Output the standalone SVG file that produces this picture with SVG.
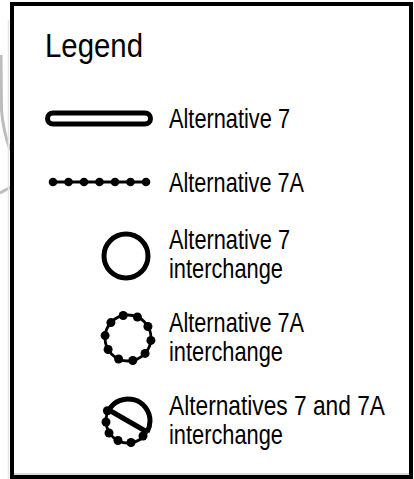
<svg xmlns="http://www.w3.org/2000/svg" width="414" height="479" viewBox="0 0 414 479">
<style>
.t{font-family:"Liberation Sans",Arial,sans-serif;font-size:27.5px;fill:#000}
.title{font-family:"Liberation Sans",Arial,sans-serif;font-size:33.5px;fill:#000}
.bg{fill:none;stroke:#bdbdbd;stroke-width:3}
.thick{fill:none;stroke:#000;stroke-width:5}
.thin{fill:none;stroke:#000;stroke-width:2.8}
.dot{fill:#000}
</style>
<rect width="414" height="479" fill="#fff"/>
<g id="background">
<path class="bg" d="M1,55 L1.5,110 Q3,130 10,150"/>
<path class="bg" d="M0,193 L11,187"/>
<line x1="8.5" y1="20" x2="8.5" y2="479" stroke="#e6e6e6" stroke-width="1.5"/>
<line x1="14" y1="474" x2="409" y2="474" stroke="#cfcfcf" stroke-width="1.5"/>
</g>
<g id="frame">
<rect x="12" y="4" width="399" height="473" fill="none" stroke="#000" stroke-width="4"/>
</g>
<g id="title">
<text class="title" x="45" y="57" textLength="98" lengthAdjust="spacingAndGlyphs">Legend</text>
</g>
<g id="alt7">
<rect x="47.5" y="113" width="103" height="11" rx="5.5" fill="#fff" stroke="#000" stroke-width="5"/>
<text class="t" x="169" y="128" textLength="121" lengthAdjust="spacingAndGlyphs">Alternative 7</text>
</g>
<g id="alt7a">
<line class="thin" x1="53" y1="182" x2="146" y2="182"/>
<g class="dot">
<circle cx="53" cy="182" r="4.3"/><circle cx="68.5" cy="182" r="4.3"/><circle cx="84" cy="182" r="4.3"/><circle cx="99.5" cy="182" r="4.3"/><circle cx="115" cy="182" r="4.3"/><circle cx="130.5" cy="182" r="4.3"/><circle cx="146" cy="182" r="4.3"/>
</g>
<text class="t" x="169" y="192" textLength="135" lengthAdjust="spacingAndGlyphs">Alternative 7A</text>
</g>
<g id="alt7-interchange">
<circle class="thick" cx="126" cy="256" r="22"/>
<text class="t" x="169" y="249" textLength="121" lengthAdjust="spacingAndGlyphs">Alternative 7</text>
<text class="t" x="169" y="278" textLength="114" lengthAdjust="spacingAndGlyphs">interchange</text>
</g>
<g id="alt7a-interchange">
<circle class="thin" cx="128" cy="338" r="23"/>
<g class="dot">
<circle cx="123.2" cy="315.5" r="4.5"/>
<circle cx="137.4" cy="317.0" r="4.5"/>
<circle cx="147.9" cy="326.5" r="4.5"/>
<circle cx="150.9" cy="340.4" r="4.5"/>
<circle cx="145.1" cy="353.4" r="4.5"/>
<circle cx="132.8" cy="360.5" r="4.5"/>
<circle cx="118.6" cy="359.0" r="4.5"/>
<circle cx="108.1" cy="349.5" r="4.5"/>
<circle cx="105.1" cy="335.6" r="4.5"/>
<circle cx="110.9" cy="322.6" r="4.5"/>
</g>
<text class="t" x="169" y="332" textLength="135" lengthAdjust="spacingAndGlyphs">Alternative 7A</text>
<text class="t" x="169" y="361" textLength="114" lengthAdjust="spacingAndGlyphs">interchange</text>
</g>
<g id="both-interchange">
<path class="thick" d="M108.9,410 A22,22 0 0 1 150,421 A22,22 0 0 1 147.1,432"/>
<line class="thick" x1="108.9" y1="410" x2="147.1" y2="432"/>
<path class="thin" d="M147.1,432 A22,22 0 0 1 108.9,410"/>
<g class="dot">
<circle cx="107.4" cy="410.8" r="4.5"/>
<circle cx="106" cy="422" r="4.5"/>
<circle cx="109" cy="433" r="4.5"/>
<circle cx="118" cy="440.5" r="4.5"/>
<circle cx="131" cy="442.5" r="4.5"/>
<circle cx="143" cy="436" r="4.5"/>
</g>
<text class="t" x="169" y="415" textLength="216" lengthAdjust="spacingAndGlyphs">Alternatives 7 and 7A</text>
<text class="t" x="169" y="444" textLength="114" lengthAdjust="spacingAndGlyphs">interchange</text>
</g>
</svg>
